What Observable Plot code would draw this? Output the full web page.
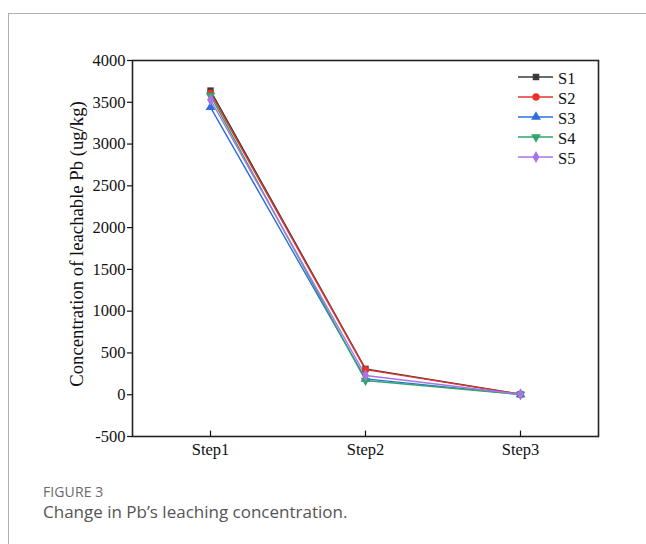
<!DOCTYPE html>
<html>
<head>
<meta charset="utf-8">
<script src="https://cdn.jsdelivr.net/npm/d3@7"></script>
<script src="https://cdn.jsdelivr.net/npm/@observablehq/plot@0.6"></script>
<style>
  html, body { margin: 0; padding: 0; background: #fff; }
  #wrap { position: relative; width: 646px; height: 544px; overflow: hidden; }
  #box { position: absolute; left: 8px; top: 13px; right: -10px; bottom: -10px;
         border-top: 1.5px solid #b0b0b0; border-left: 1.5px solid #b0b0b0; }
  #chart { position: absolute; left: 0; top: 0; }
  #chart svg text:not(.ytitle) { font-size: 16.5px !important; fill: #111; }
  #legend { position: absolute; left: 510px; top: 66px; }
  #cap1 { position: absolute; left: 43px; top: 483px; font-family: "Open Sans", sans-serif;
          font-size: 14px; line-height: 18px; color: #6b6b6b; letter-spacing: 0.1px; }
  #cap2 { position: absolute; left: 43px; top: 501px; font-family: "Open Sans", sans-serif;
          font-size: 17px; line-height: 22px; color: #555; }
</style>
</head>
<body>
<div id="wrap">
  <div id="box"></div>
  <div id="chart"></div>
  <div id="legend"></div>
  <div id="cap1">FIGURE 3</div>
  <div id="cap2">Change in Pb’s leaching concentration.</div>
</div>
<script>
const steps = ["Step1", "Step2", "Step3"];
const seriesNames = ["S1", "S2", "S3", "S4", "S5"];
const S1 = [3640, 310, 5];
const S2 = [3610, 300, 5];
const S3 = [3440, 190, 3];
const S4 = [3580, 170, 3];
const S5 = [3530, 230, 5];
const yTicks = [-500, 0, 500, 1000, 1500, 2000, 2500, 3000, 3500, 4000];
const colors = ["#3a3a3a", "#e8332c", "#2c6fdc", "#2fa66a", "#a874e6"];
const symbols = ["square", "circle", "triangle", "triangle", "diamond"];
const rotations = [0, 0, 0, 180, 0];

const values = [S1, S2, S3, S4, S5];
const data = [];
seriesNames.forEach((s, i) => {
  steps.forEach((st, j) => data.push({series: s, step: st, value: values[i][j], idx: i}));
});

const serif = "'Liberation Serif', 'Times New Roman', serif";

const plot = Plot.plot({
  width: 646,
  height: 470,
  marginLeft: 132,
  marginRight: 48,
  marginTop: 60,
  marginBottom: 34,
  style: {fontFamily: serif, fontSize: "16.5px", color: "#111", background: "transparent"},
  x: {type: "point", domain: steps, padding: 0.5},
  y: {domain: [-500, 4000]},
  color: {domain: seriesNames, range: colors},
  symbol: {domain: seriesNames, range: symbols},
  marks: [
    Plot.axisY({ticks: yTicks, tickSize: 5, tickPadding: 2, tickFormat: d => String(d), label: null, strokeWidth: 1.2}),
    Plot.axisX({tickSize: 0, tickPadding: 7, label: null}),
    Plot.ruleX(steps, {x: d => d, y1: -500, y2: -500 + 65, stroke: "#111", strokeWidth: 1.2}),
    Plot.line(data, {x: "step", y: "value", z: "series", stroke: "series", strokeWidth: 1.4}),
    Plot.dot(data, {x: "step", y: "value", fill: "series", stroke: "none", symbol: "series",
      r: 3.6, rotate: d => rotations[d.idx]}),
    Plot.frame({stroke: "#222", strokeWidth: 1.6})
  ]
});
document.getElementById("chart").appendChild(plot);

// y axis title
d3.select(plot).append("text")
  .attr("class", "ytitle")
  .attr("transform", "translate(76,244) rotate(-90)")
  .attr("text-anchor", "middle")
  .attr("dominant-baseline", "central")
  .attr("font-family", serif)
  .style("font-size", "18.7px")
  .attr("fill", "#111")
  .text("Concentration of leachable Pb (ug/kg)");

// legend
const lg = d3.select("#legend").append("svg").attr("width", 90).attr("height", 115);
const symScale = d3.scaleOrdinal().domain(seriesNames).range([d3.symbolSquare, d3.symbolCircle, d3.symbolTriangle, d3.symbolTriangle, d3.symbolDiamond]);
seriesNames.forEach((s, i) => {
  const g = lg.append("g").attr("transform", `translate(0,${11 + i * 20})`);
  g.append("line").attr("x1", 8).attr("x2", 43).attr("stroke", colors[i]).attr("stroke-width", 1.4);
  g.append("path").attr("d", d3.symbol(symScale(s), 42)()).attr("fill", colors[i])
    .attr("transform", `translate(26,0) rotate(${rotations[i]})`);
  g.append("text").attr("x", 48).attr("y", 1).attr("dominant-baseline", "central")
    .attr("font-family", serif).attr("font-size", 16.5).attr("fill", "#111").text(s);
});
</script>
</body>
</html>
